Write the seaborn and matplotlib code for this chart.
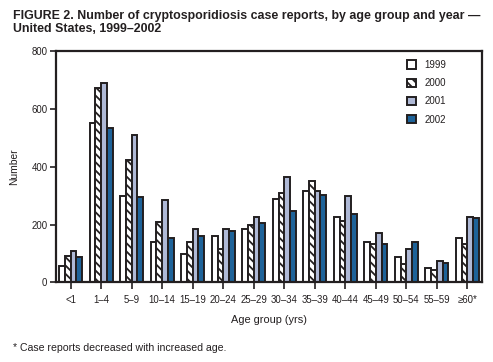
import matplotlib
matplotlib.use("Agg")
import matplotlib.pyplot as plt
import seaborn as sns
import pandas as pd

age_groups = ["<1", "1\u20134", "5\u20139", "10\u201314", "15\u201319", "20\u201324", "25\u201329",
              "30\u201334", "35\u201339", "40\u201344", "45\u201349", "50\u201354", "55\u201359", "\u226560"]
tick_labels = ["<1", "1\u20134", "5\u20139", "10\u201314", "15\u201319", "20\u201324", "25\u201329",
               "30\u201334", "35\u201339", "40\u201344", "45\u201349", "50\u201354", "55\u201359", "\u226560*"]
years = ["1999", "2000", "2001", "2002"]
v1999 = [58, 551, 298, 139, 97, 159, 186, 287, 315, 225, 139, 87, 51, 155]
v2000 = [91, 673, 424, 208, 139, 115, 197, 308, 350, 211, 131, 65, 44, 134]
v2001 = [108, 690, 510, 284, 186, 186, 225, 364, 315, 298, 170, 117, 75, 225]
v2002 = [86, 534, 294, 155, 159, 176, 204, 248, 301, 235, 134, 139, 68, 221]

rows = []
for yr, vals in zip(years, [v1999, v2000, v2001, v2002]):
    for g, v in zip(age_groups, vals):
        rows.append({"age": g, "year": yr, "count": v})
df = pd.DataFrame(rows)

sns.set_theme(style="ticks")
plt.rcParams["font.family"] = ["Liberation Sans", "DejaVu Sans"]
plt.rcParams["hatch.linewidth"] = 1.3
plt.rcParams["hatch.color"] = "#231f20"

colors = ["#ffffff", "#ffffff", "#a9b6dc", "#0a66ad"]
edge = "#231f20"
txt = "#231f20"

fig = plt.figure(figsize=(4.93, 3.62), dpi=100)
ax = fig.add_axes([0.113, 0.22, 0.864, 0.639])

sns.barplot(data=df, x="age", y="count", hue="year", order=age_groups, hue_order=years,
            palette=colors, width=0.75, edgecolor=edge, linewidth=1.4, ax=ax, legend=True)

for i, cont in enumerate(ax.containers):
    for bar in cont:
        if i == 1:
            bar.set_hatch("\\\\\\\\")
        bar.set_edgecolor(edge)

ax.set_xlim(-0.49, 13.47)
ax.set_ylim(0, 800)
ax.set_yticks([0, 200, 400, 600, 800])
ax.set_xticks(range(len(age_groups)))
ax.set_xticklabels(tick_labels, fontsize=6.9)
ax.tick_params(axis="y", labelsize=6.9, length=4, width=1.2, color=edge, pad=2, labelcolor=txt)
ax.tick_params(axis="x", length=5, width=1.2, color=edge, pad=4, labelcolor=txt)
for s in ax.spines.values():
    s.set_visible(True)
    s.set_linewidth(1.6)
    s.set_color(edge)

ax.set_xlabel("Age group (yrs)", fontsize=7.9, color=txt)
ax.set_ylabel("Number", fontsize=7.4, color=txt)
ax.xaxis.set_label_coords(0.5, -0.14)
ax.yaxis.set_label_coords(-0.086, 0.5)

leg = ax.legend(loc="upper left", bbox_to_anchor=(0.825, 0.962), frameon=False, fontsize=7,
                borderaxespad=0, borderpad=0,
                handlelength=0.93, handleheight=0.93, labelspacing=0.85, handletextpad=0.85)
for h in leg.legend_handles:
    h.set_edgecolor(edge)
    h.set_linewidth(1.4)
leg.legend_handles[1].set_hatch("\\\\\\\\")
for t in leg.get_texts():
    t.set_color(txt)

fig.text(0.026, 1 - 19 / 362, "FIGURE 2. Number of cryptosporidiosis case reports, by age group and year \u2014",
         fontsize=8.9, fontweight="bold", va="baseline", ha="left", color=txt)
fig.text(0.026, 1 - 32 / 362, "United States, 1999\u20132002",
         fontsize=8.9, fontweight="bold", va="baseline", ha="left", color=txt)
fig.text(0.026, 0.038, "* Case reports decreased with increased age.", fontsize=7.6, va="center", ha="left",
         color=txt)

fig.savefig("out.png", dpi=100)
